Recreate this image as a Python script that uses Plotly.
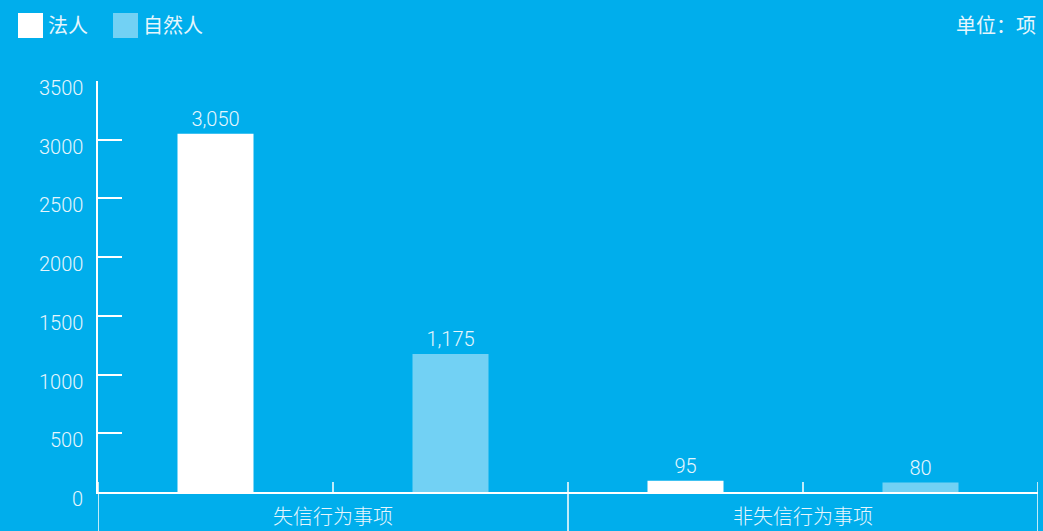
import plotly.graph_objects as go

categories = ["失信行为事项", "非失信行为事项"]
series_names = ["法人", "自然人"]
legal_person = [3050, 95]
natural_person = [1175, 80]
y_ticks = [0, 500, 1000, 1500, 2000, 2500, 3000, 3500]
unit_text = "单位：项"

BG = "#00AEEC"
WHITE = "#FFFFFF"
LIGHT = "#72D1F4"
TXT = "#E6F6FD"
FONT = "Helvetica Neue, Roboto, Noto Sans CJK SC, sans-serif"

bw = 76 / 470.0
fig = go.Figure()
for name, vals, col, off in [(series_names[0], legal_person, WHITE, -0.25),
                             (series_names[1], natural_person, LIGHT, 0.25)]:
    fig.add_trace(go.Bar(
        x=categories, y=vals, name=name, marker=dict(color=col, line=dict(width=0)),
        width=bw, offset=off - bw / 2,
        texttemplate="%{y:,}", textposition="outside", cliponaxis=False,
        textfont=dict(color=TXT, size=20, family=FONT, weight=300),
        showlegend=False,
    ))

shapes = []
for xb in [-0.5, 0.5, 1.5]:
    shapes.append(dict(type="line", xref="x", yref="paper", x0=xb, x1=xb,
                       y0=-45 / 411, y1=10 / 411, line=dict(color=WHITE, width=1.5)))
for xc in [0, 1]:
    shapes.append(dict(type="line", xref="x", yref="paper", x0=xc, x1=xc,
                       y0=0, y1=10 / 411, line=dict(color=WHITE, width=1.5)))

annotations = []
# y tick labels, placed by the y scale, sitting just below each tick
for v in y_ticks:
    annotations.append(dict(xref="paper", yref="y", x=0, y=v, text=str(v),
                            showarrow=False, xanchor="right", yanchor="middle",
                            xshift=-13, yshift=-7,
                            font=dict(color=TXT, size=20, family=FONT, weight=300)))
lx = 18
for name, col in [(series_names[0], WHITE), (series_names[1], LIGHT)]:
    shapes.append(dict(type="rect", xref="paper", yref="paper",
                       x0=(lx - 98) / 940, x1=(lx + 25 - 98) / 940,
                       y0=(492 - 38) / 411, y1=(492 - 13) / 411,
                       fillcolor=col, line=dict(width=0)))
    annotations.append(dict(xref="paper", yref="paper", x=(lx + 28 - 98) / 940,
                            y=(492 - 25.5) / 411, text=name, showarrow=False,
                            xanchor="left", yanchor="middle",
                            font=dict(color=TXT, size=20, family=FONT)))
    lx += 95
annotations.append(dict(xref="paper", yref="paper", x=1, y=(492 - 26) / 411,
                        text=unit_text, showarrow=False, xanchor="right", yanchor="middle",
                        font=dict(color=TXT, size=20, family=FONT)))

fig.update_layout(
    width=1043, height=531,
    margin=dict(l=98, r=5, t=81, b=39),
    paper_bgcolor=BG, plot_bgcolor=BG,
    barmode="overlay",
    shapes=shapes, annotations=annotations,
    xaxis=dict(type="category", categoryorder="array", categoryarray=categories,
               range=[-0.5, 1.5], showgrid=False, zeroline=False, automargin=False,
               showline=True, linecolor=WHITE, linewidth=1.5,
               ticks="outside", ticklen=6, tickcolor=BG,
               tickfont=dict(color=TXT, size=20, family=FONT, weight=300)),
    yaxis=dict(range=[0, 3500], tickvals=y_ticks, showticklabels=False,
               showgrid=False, zeroline=False, automargin=False,
               showline=True, linecolor=WHITE, linewidth=1.5,
               ticks="inside", ticklen=24, tickcolor=WHITE, tickwidth=1.5),
)

fig.write_html("out.html", config={"displayModeBar": False})
with open("out.html", encoding="utf-8") as f:
    html = f.read()
html = html.replace("<head>", "<head><style>html,body{margin:0;padding:0;overflow:hidden;background:%s;}</style>" % BG, 1)
with open("out.html", "w", encoding="utf-8") as f:
    f.write(html)
